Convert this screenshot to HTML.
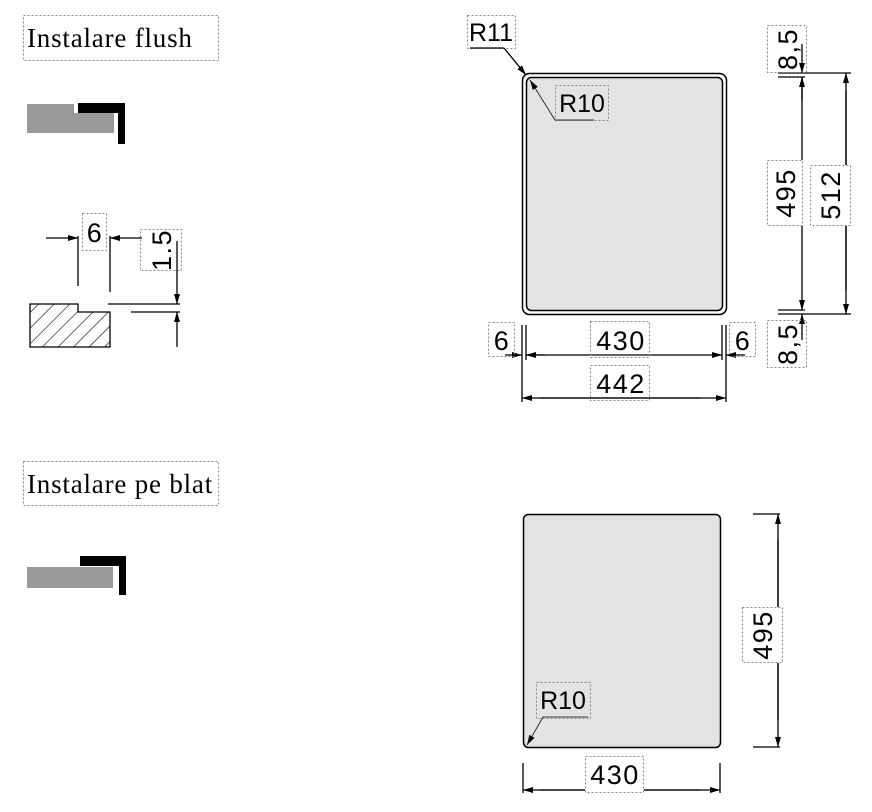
<!DOCTYPE html>
<html><head><meta charset="utf-8"><style>
body{margin:0;background:#fff}
svg{display:block}
.t{font-family:"Liberation Sans",sans-serif;font-size:27px;letter-spacing:1.5px;fill:#000}
.m{text-anchor:middle}
.r{font-size:25px;letter-spacing:0}
.s{font-family:"Liberation Serif",serif;font-size:27px;letter-spacing:0.8px;fill:#000}
.b{fill:none;stroke:#888;stroke-width:1;stroke-dasharray:2,2}
.l{stroke:#000;stroke-width:1.3;fill:none}
</style></head><body>
<svg width="872" height="812" viewBox="0 0 872 812" xmlns="http://www.w3.org/2000/svg">
<defs>
<marker id="a" viewBox="0 0 10 6" refX="10" refY="3" markerWidth="10" markerHeight="6" orient="auto" markerUnits="userSpaceOnUse"><path d="M0,0L10,3L0,6z" fill="#000"/></marker>
<pattern id="h" width="11" height="11" patternUnits="userSpaceOnUse" patternTransform="rotate(45)"><line x1="0" y1="0" x2="0" y2="11" stroke="#000" stroke-width="1.2"/></pattern>
</defs>

<rect class="b" x="23.5" y="15.5" width="195" height="45"/>
<text class="s" x="27" y="47">Instalare flush</text>
<rect class="b" x="23.5" y="461.5" width="195" height="44"/>
<text class="s" x="27" y="493">Instalare pe blat</text>

<path d="M27,104H74V113H114V133H27Z" fill="#999"/>
<path d="M78,103H125V144H118V113H78Z" fill="#000"/>
<rect x="27" y="567" width="86" height="21" fill="#999"/>
<path d="M80,556H126V595H119V566H80Z" fill="#000"/>

<path d="M30,304H78V312H110V347H30Z" fill="url(#h)" stroke="#000" stroke-width="1.3"/>
<line class="l" x1="78" y1="236" x2="78" y2="286"/>
<line class="l" x1="110" y1="236" x2="110" y2="292"/>
<line class="l" x1="46" y1="238" x2="78" y2="238" marker-end="url(#a)"/>
<line class="l" x1="142" y1="238" x2="110" y2="238" marker-end="url(#a)"/>
<rect class="b" x="82.5" y="213.5" width="24" height="37"/>
<text class="t m" x="95" y="242">6</text>
<line class="l" x1="108" y1="304" x2="180" y2="304"/>
<line class="l" x1="131" y1="312" x2="180" y2="312"/>
<line class="l" x1="177" y1="241" x2="177" y2="304" marker-end="url(#a)"/>
<line class="l" x1="177" y1="347" x2="177" y2="312" marker-end="url(#a)"/>
<rect class="b" x="140.5" y="229.5" width="41" height="41"/>
<text class="t m" transform="translate(171,250) rotate(-90)">1.5</text>

<rect x="522.5" y="73.5" width="204" height="241" rx="7" fill="none" stroke="#000" stroke-width="1.5"/>
<rect x="526.5" y="77.5" width="196" height="233" rx="5" fill="#e3e3e3" stroke="#000" stroke-width="1.5"/>
<rect class="b" x="467.5" y="15.5" width="48" height="33"/>
<text class="t m r" x="491" y="41">R11</text>
<polyline class="l" points="470,48 504,48" stroke="#555"/>
<line class="l" x1="504" y1="48" x2="526" y2="75" marker-end="url(#a)" stroke-width="1"/>
<rect class="b" x="555.5" y="85.5" width="53" height="35"/>
<text class="t m r" x="582" y="112">R10</text>
<polyline points="594,120 555,120 530,80" fill="none" stroke="#333" stroke-width="1" marker-end="url(#a)"/>

<line class="l" x1="522" y1="325" x2="522" y2="402"/>
<line class="l" x1="526" y1="325" x2="526" y2="360"/>
<line class="l" x1="722" y1="325" x2="722" y2="360"/>
<line class="l" x1="726" y1="325" x2="726" y2="402"/>
<line class="l" x1="545" y1="355" x2="526" y2="355" marker-end="url(#a)"/>
<line class="l" x1="526" y1="355" x2="722" y2="355" marker-end="url(#a)"/>
<line class="l" x1="505" y1="355" x2="522" y2="355" marker-end="url(#a)"/>
<line class="l" x1="745" y1="355" x2="726" y2="355" marker-end="url(#a)"/>
<line class="l" x1="700" y1="398" x2="522" y2="398" marker-end="url(#a)"/>
<line class="l" x1="540" y1="398" x2="726" y2="398" marker-end="url(#a)"/>
<rect class="b" x="488.5" y="322.5" width="26" height="34"/>
<text class="t m" x="502" y="350">6</text>
<rect class="b" x="590.5" y="321.5" width="59" height="36"/>
<text class="t m" x="621" y="350">430</text>
<rect class="b" x="729.5" y="322.5" width="26" height="34"/>
<text class="t m" x="743" y="350">6</text>
<rect class="b" x="590.5" y="365.5" width="59" height="35"/>
<text class="t m" x="621" y="393">442</text>

<line class="l" x1="778" y1="73" x2="851" y2="73"/>
<line class="l" x1="778" y1="77" x2="805" y2="77"/>
<line class="l" x1="778" y1="310" x2="805" y2="310"/>
<line class="l" x1="778" y1="314" x2="851" y2="314"/>
<line class="l" x1="802" y1="44" x2="802" y2="73" marker-end="url(#a)"/>
<line class="l" x1="802" y1="100" x2="802" y2="77" marker-end="url(#a)"/>
<line class="l" x1="802" y1="77" x2="802" y2="310" marker-end="url(#a)"/>
<line class="l" x1="802" y1="340" x2="802" y2="314" marker-end="url(#a)"/>
<line class="l" x1="846" y1="290" x2="846" y2="73" marker-end="url(#a)"/>
<line class="l" x1="846" y1="90" x2="846" y2="314" marker-end="url(#a)"/>
<rect x="767" y="160" width="36" height="66" fill="#fff"/>
<rect x="810" y="165" width="41" height="61" fill="#fff"/>
<rect class="b" x="767.5" y="25.5" width="39" height="47"/>
<text class="t m" transform="translate(797,49) rotate(-90)">8,5</text>
<rect class="b" x="767.5" y="160.5" width="35" height="65"/>
<text class="t m" transform="translate(795,193) rotate(-90)">495</text>
<rect class="b" x="810.5" y="165.5" width="40" height="60"/>
<text class="t m" transform="translate(840,195) rotate(-90)">512</text>
<rect class="b" x="767.5" y="320.5" width="39" height="47"/>
<text class="t m" transform="translate(797,344) rotate(-90)">8,5</text>

<rect x="523.5" y="514.5" width="197" height="233" rx="5" fill="#e3e3e3" stroke="#000" stroke-width="1.5"/>
<rect class="b" x="536.5" y="682.5" width="54" height="36"/>
<text class="t m r" x="563" y="709">R10</text>
<polyline points="588,717 543,717 527,745" fill="none" stroke="#333" stroke-width="1" marker-end="url(#a)"/>
<line class="l" x1="753" y1="514" x2="780" y2="514"/>
<line class="l" x1="753" y1="747" x2="780" y2="747"/>
<line class="l" x1="778" y1="720" x2="778" y2="514" marker-end="url(#a)"/>
<line class="l" x1="778" y1="540" x2="778" y2="747" marker-end="url(#a)"/>
<rect x="742" y="607" width="41" height="56" fill="#fff"/>
<rect class="b" x="742.5" y="607.5" width="40" height="55"/>
<text class="t m" transform="translate(772,635) rotate(-90)">495</text>
<line class="l" x1="523" y1="763" x2="523" y2="793"/>
<line class="l" x1="720" y1="763" x2="720" y2="793"/>
<line class="l" x1="700" y1="790" x2="523" y2="790" marker-end="url(#a)"/>
<line class="l" x1="540" y1="790" x2="720" y2="790" marker-end="url(#a)"/>
<rect x="585" y="756" width="59" height="37" fill="#fff"/>
<rect class="b" x="585.5" y="756.5" width="58" height="36"/>
<text class="t m" x="615" y="784">430</text>
</svg>
</body></html>
